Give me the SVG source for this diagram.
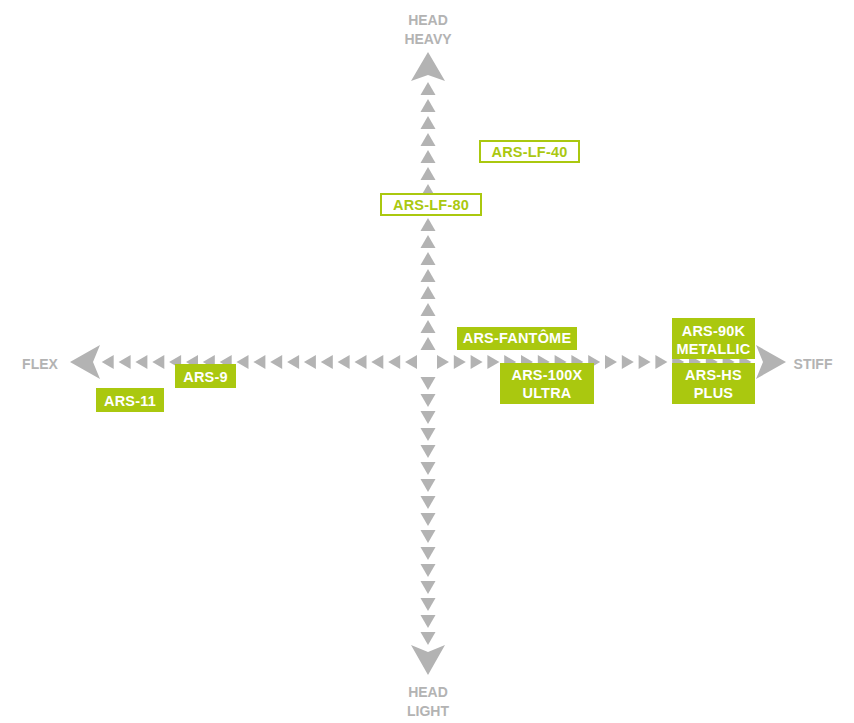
<svg xmlns="http://www.w3.org/2000/svg" xmlns:xlink="http://www.w3.org/1999/xlink" width="854" height="723" viewBox="0 0 854 723">
<style>
.ax{fill:#b3b3b3}
.axl{font-family:"Liberation Sans",Arial,sans-serif;font-weight:bold;font-size:14px;fill:#b3b3b3;text-anchor:middle}
.bf{fill:#aac80f}
.bo{fill:#fff;stroke:#aac80f;stroke-width:2}
.tw{font-family:"Liberation Sans",Arial,sans-serif;font-weight:bold;font-size:14.5px;fill:#fff;text-anchor:middle;letter-spacing:0.2px}
.tg{font-family:"Liberation Sans",Arial,sans-serif;font-weight:bold;font-size:14.5px;fill:#aac80f;text-anchor:middle;letter-spacing:0.2px}
</style>
<defs>
<path id="tu" d="M-7.5,0 L0,-13 L7.5,0Z"/>
<path id="td" d="M-7.5,0 L7.5,0 L0,13Z"/>
<path id="tl" d="M0,-7 L0,7 L-12,0Z"/>
<path id="tr" d="M0,-7 L0,7 L12,0Z"/>
</defs>
<g id="connectors" class="ax">
<g id="axis-up">
<use href="#tu" x="428" y="350"/><use href="#tu" x="428" y="333"/><use href="#tu" x="428" y="316"/><use href="#tu" x="428" y="299"/>
<use href="#tu" x="428" y="282"/><use href="#tu" x="428" y="265"/><use href="#tu" x="428" y="248"/><use href="#tu" x="428" y="231"/>
<use href="#tu" x="428" y="214"/><use href="#tu" x="428" y="197"/><use href="#tu" x="428" y="180"/><use href="#tu" x="428" y="163"/>
<use href="#tu" x="428" y="146"/><use href="#tu" x="428" y="129"/><use href="#tu" x="428" y="112"/><use href="#tu" x="428" y="95"/>
<path d="M428,52 L445,81 L428,75 L411,81Z"/>
</g>
<g id="axis-down">
<use href="#td" x="428" y="377"/><use href="#td" x="428" y="394"/><use href="#td" x="428" y="411"/><use href="#td" x="428" y="428"/>
<use href="#td" x="428" y="445"/><use href="#td" x="428" y="462"/><use href="#td" x="428" y="479"/><use href="#td" x="428" y="496"/>
<use href="#td" x="428" y="513"/><use href="#td" x="428" y="530"/><use href="#td" x="428" y="547"/><use href="#td" x="428" y="564"/>
<use href="#td" x="428" y="581"/><use href="#td" x="428" y="598"/><use href="#td" x="428" y="615"/><use href="#td" x="428" y="632"/>
<path d="M428,675 L445,645 L428,652 L411,645Z"/>
</g>
<g id="axis-left">
<use href="#tl" x="417" y="362"/><use href="#tl" x="400.2" y="362"/><use href="#tl" x="383.3" y="362"/><use href="#tl" x="366.5" y="362"/>
<use href="#tl" x="349.6" y="362"/><use href="#tl" x="332.8" y="362"/><use href="#tl" x="315.9" y="362"/><use href="#tl" x="299.1" y="362"/>
<use href="#tl" x="282.2" y="362"/><use href="#tl" x="265.4" y="362"/><use href="#tl" x="248.5" y="362"/><use href="#tl" x="231.7" y="362"/>
<use href="#tl" x="214.8" y="362"/><use href="#tl" x="198" y="362"/><use href="#tl" x="181.1" y="362"/><use href="#tl" x="164.3" y="362"/>
<use href="#tl" x="147.4" y="362"/><use href="#tl" x="130.6" y="362"/><use href="#tl" x="113.7" y="362"/>
<path d="M70,362 L100,345 L93,362 L100,379Z"/>
</g>
<g id="axis-right">
<use href="#tr" x="437" y="362"/><use href="#tr" x="453.8" y="362"/><use href="#tr" x="470.6" y="362"/><use href="#tr" x="487.4" y="362"/>
<use href="#tr" x="504.2" y="362"/><use href="#tr" x="521" y="362"/><use href="#tr" x="537.8" y="362"/><use href="#tr" x="554.6" y="362"/>
<use href="#tr" x="571.4" y="362"/><use href="#tr" x="588.2" y="362"/><use href="#tr" x="605" y="362"/><use href="#tr" x="621.8" y="362"/>
<use href="#tr" x="638.6" y="362"/><use href="#tr" x="655.4" y="362"/><use href="#tr" x="672.2" y="362"/><use href="#tr" x="689" y="362"/>
<use href="#tr" x="705.8" y="362"/><use href="#tr" x="722.6" y="362"/><use href="#tr" x="739.4" y="362"/>
<path d="M786,362 L756,345 L763,362 L756,379Z"/>
</g>
</g>
<g id="axis-labels">
<text class="axl" x="428" y="25">HEAD</text>
<text class="axl" x="428" y="44">HEAVY</text>
<text class="axl" x="428" y="697">HEAD</text>
<text class="axl" x="428" y="716">LIGHT</text>
<text class="axl" x="40" y="369">FLEX</text>
<text class="axl" x="813" y="369">STIFF</text>
</g>
<g id="ars-lf-40"><rect class="bo" x="480" y="141" width="99" height="21"/><text class="tg" x="529.5" y="157">ARS-LF-40</text></g>
<g id="ars-lf-80"><rect class="bo" x="381" y="194" width="100" height="21"/><text class="tg" x="431" y="210">ARS-LF-80</text></g>
<g id="ars-fantome"><rect class="bf" x="457" y="327" width="120" height="23"/><text class="tw" x="517" y="343">ARS-FANTÔME</text></g>
<g id="ars-100x"><rect class="bf" x="500" y="363" width="94" height="41"/><text class="tw" x="547" y="380">ARS-100X</text><text class="tw" x="547" y="398">ULTRA</text></g>
<g id="ars-90k"><rect class="bf" x="672" y="318" width="83" height="41"/><text class="tw" x="713.5" y="336">ARS-90K</text><text class="tw" x="713.5" y="354">METALLIC</text></g>
<g id="ars-hs"><rect class="bf" x="672" y="363" width="83" height="41"/><text class="tw" x="713.5" y="380">ARS-HS</text><text class="tw" x="713.5" y="398">PLUS</text></g>
<g id="ars-9"><rect class="bf" x="175" y="364" width="61" height="24"/><text class="tw" x="205.5" y="382">ARS-9</text></g>
<g id="ars-11"><rect class="bf" x="96" y="388" width="68" height="24"/><text class="tw" x="130" y="406">ARS-11</text></g>
</svg>
